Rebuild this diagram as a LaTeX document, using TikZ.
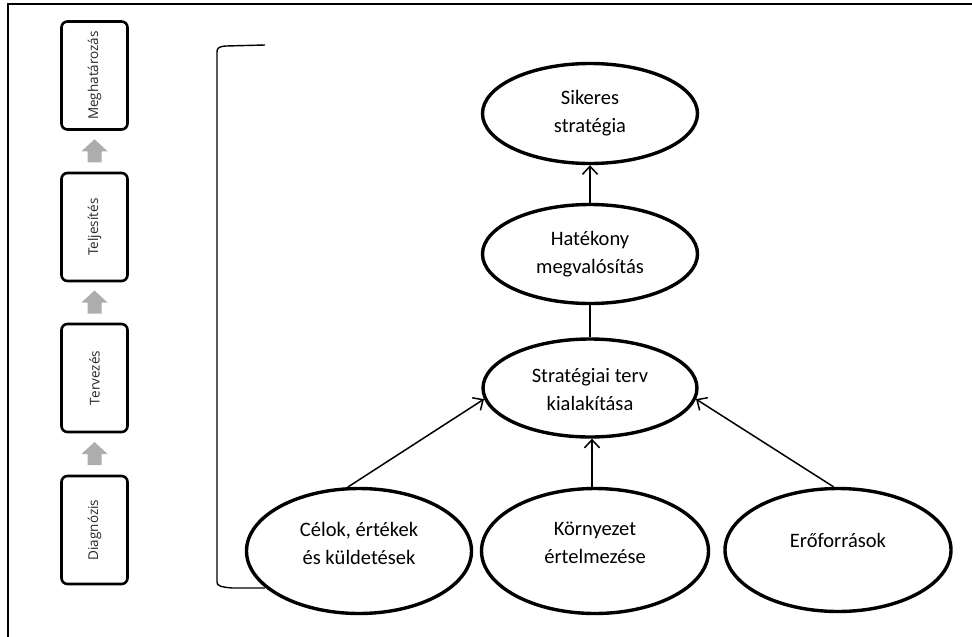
\documentclass[tikz,border=0pt]{standalone}
\usepackage{fontspec}
\setmainfont{Carlito}
\newfontfamily\stagefont{Open Sans}
\usetikzlibrary{shapes.geometric,arrows.meta,calc}

\begin{document}
\begin{tikzpicture}[x=1pt,y=-1pt,
  bubble/.style={ellipse,draw,line width=3.4pt,inner sep=0pt},
  lbl/.style={align=center,font=\fontsize{20.5}{28}\selectfont,inner sep=0pt},
  stagebox/.style={draw,line width=2.6pt,rounded corners=6pt,rotate=90,
    minimum width=108pt,minimum height=66pt,inner sep=0pt,
    text=black!85,font=\stagefont\fontsize{13.5}{16}\selectfont},
  uparrow/.style={fill=black!32},
  link/.style={line width=1.5pt,-{Straight Barb[length=8pt,width=15pt,line width=1.5pt]}},
  plain/.style={line width=1.5pt}]

\useasboundingbox (0,0) rectangle (972,637);

% frame
\draw[line width=2pt] (972,4) -- (8,4) -- (8,637);

% stages on the left
\node[stagebox] (s4) at (94.5,75.5) {Meghatározás};
\node[stagebox] (s3) at (94.5,227) {Teljesítés};
\node[stagebox] (s2) at (94.5,378) {Tervezés};
\node[stagebox] (s1) at (94.5,530) {Diagnózis};

\foreach \lo/\hi in {s1/s2,s2/s3,s3/s4}{
  \coordinate (m) at ($(\lo.west)!0.5!(\hi.east)$);
  \fill[uparrow,shift={(m)}] (-7,11) -- (-7,0) -- (-13,0) -- (0,-12)
    -- (13,0) -- (7,0) -- (7,11) -- cycle;
}

% bracket
\draw[line width=1.4pt] (265,45) -- (226,46) .. controls (219,46.5) and (217,48) .. (217,52)
  -- (217,582) .. controls (217,586) and (221,587) .. (232,588) -- (265,588);

% ellipses
\node[bubble,minimum width=215pt,minimum height=100pt] (suc) at (590,113.5) {};
\node[lbl] (suct) at (suc.center) {Sikeres\\stratégia};

\node[bubble,minimum width=215pt,minimum height=99pt] (hat) at (590,254) {};
\node[lbl] (hatt) at (hat.center) {Hatékony\\megvalósítás};

\node[bubble,minimum width=214pt,minimum height=98pt] (str) at (590,388) {};
\node[lbl] (strt) at ([yshift=-2pt]str.center) {Stratégiai terv\\kialakítása};

\node[bubble,minimum width=225pt,minimum height=125pt] (cel) at (359,551) {};
\node[lbl] (celt) at ([yshift=8pt]cel.center) {Célok, értékek\\és küldetések};

\node[bubble,minimum width=227pt,minimum height=125pt] (kor) at (595,551) {};
\node[lbl] (kort) at ([yshift=8pt]kor.center) {Környezet\\értelmezése};

\node[bubble,minimum width=226pt,minimum height=123pt] (ero) at (838,550) {};
\node[lbl] (erot) at ([yshift=10pt]ero.center) {Erőforrások};

% connectors
\draw[link] (hat.north) -- (suc.south);
\draw[plain] (str.north) -- (hat.south);
\draw[link] (cel.100) -- (str.186);
\draw[link] ($(str.south |- kor.north)+(2,0)$) -- ($(str.south)+(2,0)$);
\draw[link] (ero.94) -- (str.-6);

\end{tikzpicture}
\end{document}
